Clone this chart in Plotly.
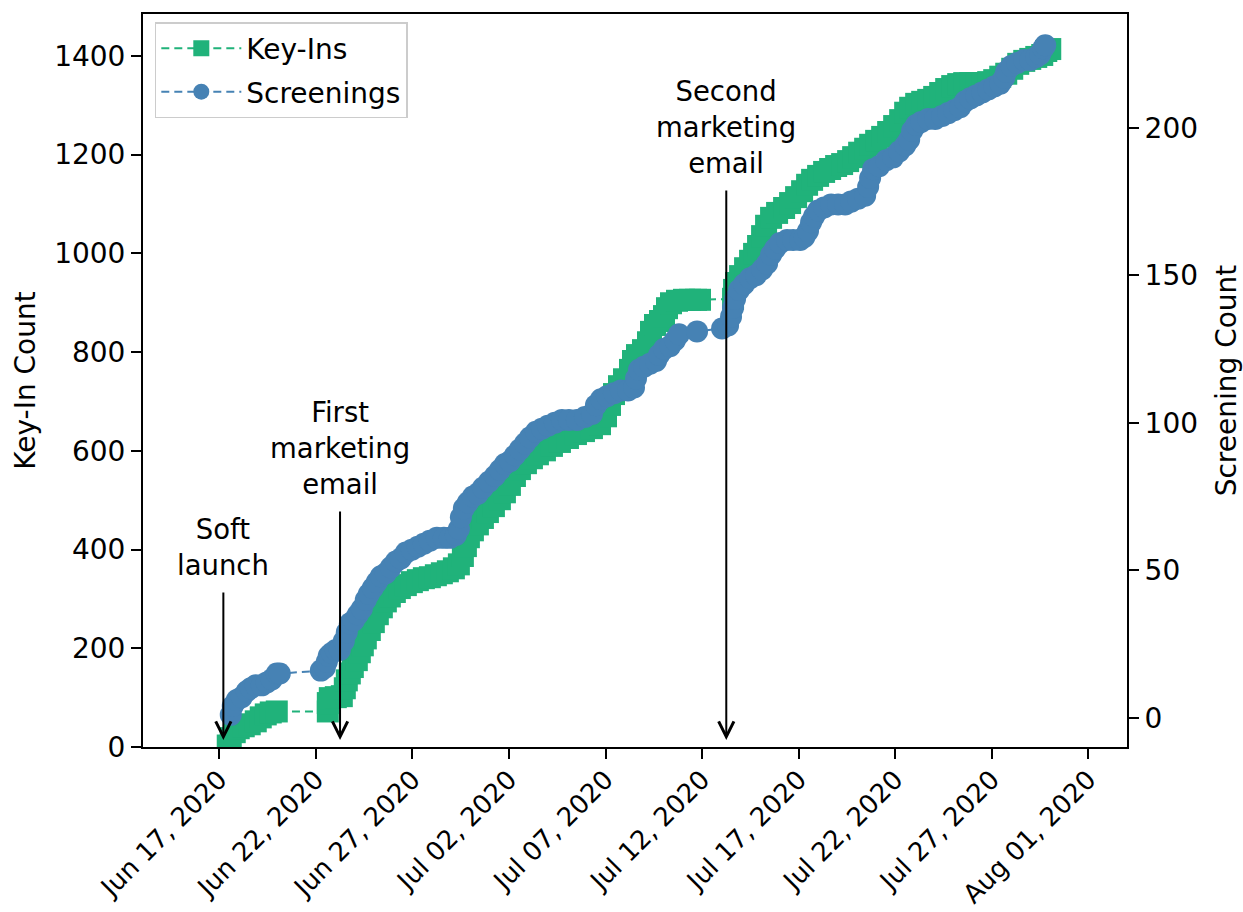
import pandas as pd
import plotly.graph_objects as go

START = pd.Timestamp("2020-06-17")

# Key-In running total; time given as elapsed days since 2020-06-17 00:00
keyin_days = [
    0.435, 0.591, 0.798, 1.005, 1.264, 1.575, 1.886, 2.145, 2.404, 2.663, 2.974,
    5.617, 5.617, 5.720, 6.031, 6.342, 6.497, 6.601, 6.756, 6.912, 7.119,
    7.275, 7.430, 7.585, 7.793, 8.000, 8.207, 8.415, 8.622, 8.829, 9.088,
    9.347, 9.658, 9.969, 10.280, 10.591, 10.902, 11.212, 11.523, 11.834, 12.145,
    12.404, 12.611, 12.767, 12.922, 13.130, 13.389, 13.648, 13.907, 14.218, 14.528,
    14.788, 15.047, 15.306, 15.565, 15.876, 16.187, 16.497, 16.860, 17.223, 17.637,
    18.052, 18.466, 18.881, 19.295, 19.710, 20.021, 20.228, 20.435, 20.694, 20.953,
    21.264, 21.420, 21.627, 21.938, 22.197, 22.352, 22.560, 22.819, 23.026, 23.181,
    23.389, 23.699, 24.062, 24.373, 24.684, 24.891,
    26.601, 26.653, 26.756, 26.964, 27.223, 27.482, 27.689, 27.896, 28.104, 28.311,
    28.570, 28.881, 29.244, 29.554, 29.865, 30.176, 30.435, 30.694,
    31.005, 31.316, 31.627, 31.938, 32.249, 32.560, 32.819, 33.130, 33.440, 33.699,
    34.010, 34.321, 34.632, 34.943, 35.254, 35.513, 35.772, 36.083, 36.394, 36.705,
    37.016, 37.326, 37.637, 37.948, 38.259, 38.570, 38.881, 39.192, 39.503, 39.813,
    40.124, 40.435, 40.746, 41.057, 41.368, 41.679, 41.990, 42.301, 42.611, 42.819,
    43.026,
]
keyin_count = [
    3, 18, 30, 38, 42, 46, 52, 60, 66, 70, 72,
    72, 89, 99, 101, 103, 119, 135, 149, 162, 176,
    192, 206, 220, 237, 253, 269, 283, 295, 305, 314,
    322, 328, 334, 338, 342, 344, 348, 352, 356, 362,
    370, 387, 407, 425, 439, 451, 464, 476, 488, 502,
    516, 531, 549, 563, 575, 585, 593, 601, 610, 618,
    626, 634, 640, 646, 654, 670, 693, 715, 731, 745,
    764, 782, 794, 804, 820, 841, 855, 863, 873, 889,
    899, 904, 906, 906, 906, 906,
    908, 926, 940, 954, 970, 985, 999, 1015, 1035, 1056,
    1072, 1082, 1092, 1102, 1114, 1126, 1139, 1149,
    1157, 1165, 1171, 1177, 1181, 1187, 1195, 1204, 1212, 1220,
    1228, 1236, 1246, 1258, 1270, 1285, 1295, 1303, 1307, 1311,
    1317, 1325, 1333, 1339, 1343, 1345, 1345, 1345, 1345, 1347,
    1351, 1358, 1364, 1374, 1384, 1390, 1394, 1398, 1402, 1410,
    1414,
]

# Screening running total; same time convention
screen_days = [
    0.591, 0.694, 0.902, 1.161, 1.420, 1.627, 1.886, 2.197, 2.456, 2.715,
    2.974, 3.130,
    5.254, 5.461, 5.565, 5.668, 5.824, 6.031, 6.238, 6.446, 6.601, 6.756,
    6.964, 7.171, 7.378, 7.585, 7.741, 7.948, 8.155, 8.363, 8.622, 8.881,
    9.140, 9.399, 9.658, 9.969, 10.280, 10.591, 10.902, 11.264, 11.627, 11.938,
    12.249, 12.404, 12.508, 12.663, 12.870, 13.130, 13.389, 13.648, 13.959, 14.269,
    14.528, 14.788, 15.047, 15.306, 15.565, 15.824, 16.083, 16.394, 16.705, 17.016,
    17.378, 17.741, 18.104, 18.518, 18.933, 19.295, 19.503, 19.762, 20.073, 20.435,
    20.798, 21.161, 21.472, 21.575, 21.731, 21.990, 22.301, 22.611, 22.767, 23.026,
    23.337, 23.596, 23.803, 24.736,
    26.031, 26.342, 26.497, 26.601, 26.705, 26.912, 27.171, 27.482, 27.793, 28.104,
    28.363, 28.570, 28.777, 29.036, 29.399, 29.710, 30.073, 30.295, 30.482, 30.642,
    30.798, 31.005, 31.316, 31.679, 32.041, 32.404, 32.715, 33.078, 33.440, 33.596,
    33.699, 33.855, 34.166, 34.528, 34.891, 35.202, 35.513, 35.720, 35.876, 36.083,
    36.342, 36.705, 37.067, 37.430, 37.741, 38.052, 38.363, 38.622, 38.881, 39.192,
    39.503, 39.813, 40.124, 40.435, 40.642, 40.746, 41.005, 41.316, 41.679, 41.990,
    42.301, 42.508, 42.663, 42.767,
]
screen_count = [
    1, 4, 6, 7, 9, 10, 11, 11, 12, 13,
    15, 15,
    16, 17, 19, 21, 22, 23, 23, 26, 29, 32,
    33, 35, 37, 40, 42, 44, 46, 48, 49, 51,
    53, 54, 56, 57, 58, 59, 60, 61, 61, 61,
    62, 64, 68, 71, 73, 75, 76, 78, 80, 82,
    84, 86, 87, 89, 91, 93, 95, 97, 98, 99,
    100, 101, 101, 101, 102, 103, 106, 108, 109, 110,
    111, 111, 112, 115, 118, 119, 120, 121, 123, 125,
    126, 128, 130, 131,
    132, 133, 136, 139, 142, 145, 147, 149, 150, 152,
    154, 157, 159, 161, 162, 162, 162, 163, 165, 168,
    170, 172, 173, 174, 174, 174, 175, 176, 177, 180,
    183, 186, 187, 189, 190, 192, 194, 196, 199, 201,
    202, 203, 203, 204, 205, 206, 207, 209, 210, 211,
    212, 213, 214, 215, 217, 219, 221, 222, 223, 223,
    224, 225, 227, 228,
]

assert len(keyin_days) == len(keyin_count)
assert len(screen_days) == len(screen_count)

# Campaign events marked with arrows
event_labels = ["Soft<br>launch", "First<br>marketing<br>email", "Second<br>marketing<br>email"]
event_times = ["2020-06-17 05:00", "2020-06-23 06:00", "2020-07-13 06:00"]
event_offsets = [-200, -299, -620]

tick_dates = ["2020-06-17", "2020-06-22", "2020-06-27", "2020-07-02", "2020-07-07",
              "2020-07-12", "2020-07-17", "2020-07-22", "2020-07-27", "2020-08-01"]
tick_text = ["Jun 17, 2020", "Jun 22, 2020", "Jun 27, 2020", "Jul 02, 2020", "Jul 07, 2020",
             "Jul 12, 2020", "Jul 17, 2020", "Jul 22, 2020", "Jul 27, 2020", "Aug 01, 2020"]
keyin_ticks = [0, 200, 400, 600, 800, 1000, 1200, 1400]
screen_ticks = [0, 50, 100, 150, 200]

GREEN = "#20b27a"
BLUE = "#4682b4"
FONT = "DejaVu Sans"
MARKER_PX = 22


def to_time(days):
    return [START + pd.Timedelta(days=d) for d in days]


fig = go.Figure()
fig.add_trace(go.Scatter(
    x=to_time(keyin_days), y=keyin_count, name="Key-Ins", yaxis="y",
    mode="lines+markers",
    line=dict(color=GREEN, width=2, dash="8px,5px"),
    marker=dict(symbol="square", size=MARKER_PX, color=GREEN, line=dict(width=0)),
    legendgroup="k",
))
fig.add_trace(go.Scatter(
    x=to_time(screen_days), y=screen_count, name="Screenings", yaxis="y2",
    mode="lines+markers",
    line=dict(color=BLUE, width=2, dash="8px,5px"),
    marker=dict(symbol="circle", size=MARKER_PX, color=BLUE, line=dict(width=0)),
    legendgroup="s",
))

axis_common = dict(
    showgrid=False, zeroline=False, showline=True, linecolor="black", linewidth=2,
    ticks="outside", ticklen=10, tickwidth=2, tickcolor="black", automargin=False,
)
y_tickfont = dict(family=FONT, size=28, color="black")

annotations = []
for label, t, off in zip(event_labels, event_times, event_offsets):
    annotations.append(dict(
        x=t, y=0, xref="x", yref="y", text=label, showarrow=True,
        arrowhead=5, arrowsize=1.5, arrowwidth=2, arrowcolor="black",
        ax=0, ay=off, standoff=7, startstandoff=10,
        font=dict(family=FONT, size=27.5, color="black"), align="center",
    ))

fig.update_layout(
    width=1243, height=912, autosize=False,
    margin=dict(l=143, r=116, t=14, b=165),
    paper_bgcolor="white", plot_bgcolor="white",
    font=dict(family=FONT, size=28, color="black"),
    xaxis=dict(
        type="date", range=["2020-06-13 01:08", "2020-08-03 00:00"],
        tickvals=tick_dates, ticktext=tick_text, tickangle=-45, mirror=True,
        tickfont=dict(family=FONT, size=26, color="black"), ticklabelstandoff=-5,
        **axis_common,
    ),
    yaxis=dict(
        range=[0, 1485], tickvals=keyin_ticks, tickfont=y_tickfont,
        title=dict(text="Key-In Count", standoff=10, font=dict(family=FONT, size=28)),
        **axis_common,
    ),
    yaxis2=dict(
        range=[-9.9, 238.6], tickvals=screen_ticks, overlaying="y", side="right",
        tickfont=y_tickfont,
        title=dict(text="Screening Count", standoff=20, font=dict(family=FONT, size=28)),
        **axis_common,
    ),
    legend=dict(
        x=0.012, y=0.989, xanchor="left", yanchor="top",
        bgcolor="white", bordercolor="#cccccc", borderwidth=1.5,
        font=dict(family=FONT, size=28, color="black"),
        traceorder="grouped", tracegroupgap=4, itemwidth=80,
    ),
    annotations=annotations,
)

fig.write_html("out.html", config={"displayModeBar": False})
